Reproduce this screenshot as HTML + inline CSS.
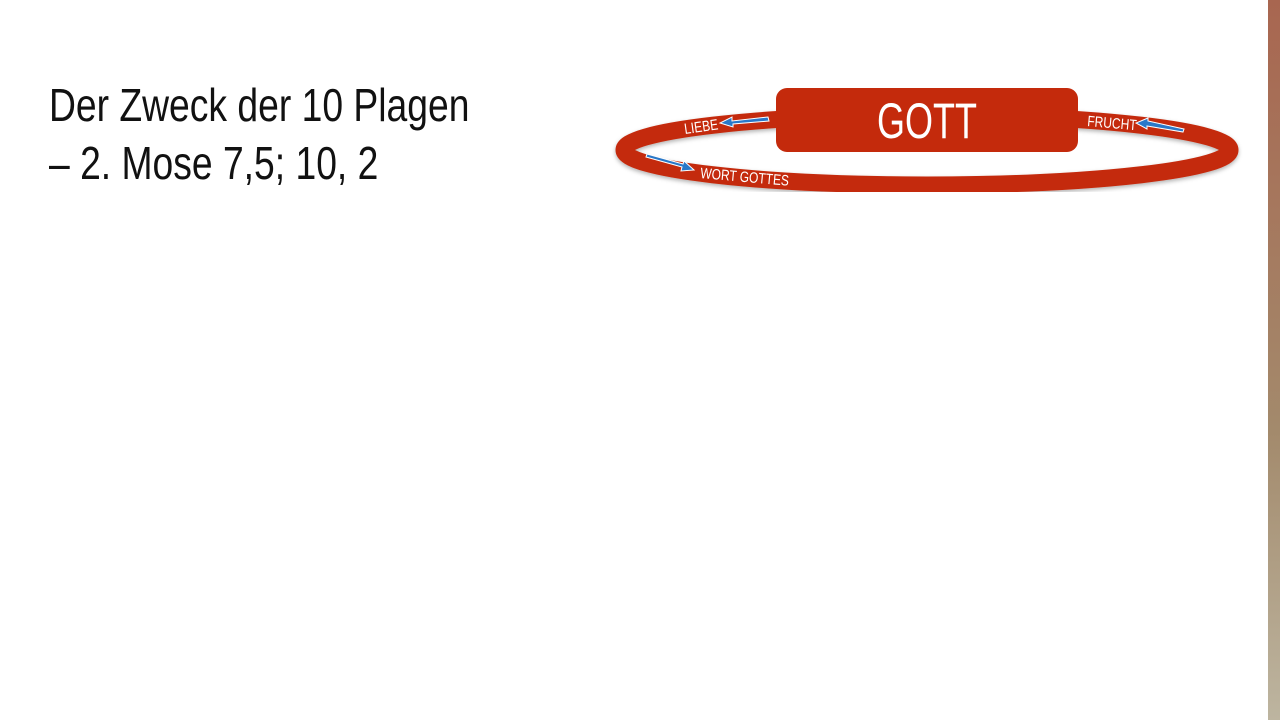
<!DOCTYPE html>
<html><head><style>
body{margin:0;width:1280px;height:720px;background:#fff;position:relative;overflow:hidden;font-family:"Liberation Sans",sans-serif}
.t{position:absolute;left:49px;top:76px;font-size:46px;line-height:58px;color:#111;transform:scaleX(0.81);transform-origin:0 0;white-space:nowrap;font-weight:300}
.bar{position:absolute;left:1268px;top:0;width:12px;height:720px;background:linear-gradient(#a86650,#a38a6c 60%,#bdb5a0)}
</style></head><body>
<div class="t">Der Zweck der 10 Plagen<br>– 2. Mose 7,5; 10, 2</div>
<svg width="1280" height="720" style="position:absolute;left:0;top:0">
<defs><filter id="s"><feDropShadow dx="0" dy="2" stdDeviation="2" flood-opacity="0.3"/></filter></defs>
<ellipse cx="927" cy="150" rx="303" ry="35" fill="none" stroke="#c42a0c" stroke-width="17" filter="url(#s)"/>
<rect x="776" y="88" width="302" height="64" rx="11" fill="#c42a0c"/>
<text x="927" y="138" text-anchor="middle" fill="#fff" font-size="50" transform="translate(927 0) scale(0.72 1) translate(-927 0)">GOTT</text>
<g fill="#fff" font-size="15">
<text x="0" y="0" transform="translate(685 134) rotate(-8) scale(0.8 1)">LIEBE</text>
<text x="0" y="0" transform="translate(1087 126) rotate(5) scale(0.8 1)">FRUCHT</text>
<text x="0" y="0" transform="translate(700 178) rotate(5) scale(0.8 1)">WORT GOTTES</text>
</g>
<g stroke="#fff" stroke-width="1" fill="#2a78c8">
<polygon points="768,117 732,121 732,117 720,123 733,127 733,124 769,121"/>
<polygon points="1184,129 1148,121 1148,118 1136,123 1147,129 1147,126 1183,132"/>
<polygon points="646,157 682,167 681,171 694,170 684,161 683,164 647,154"/>
</g>
</svg>
<div class="bar"></div>
</body></html>
